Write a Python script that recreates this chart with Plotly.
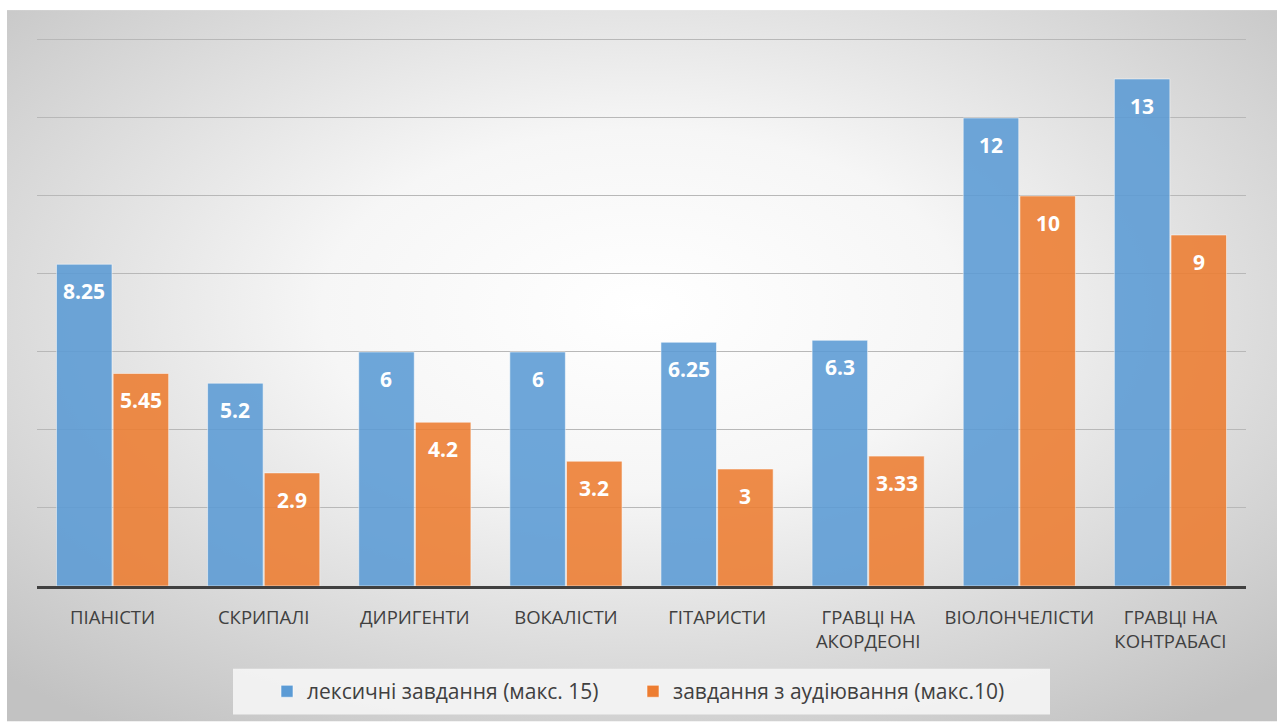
import base64
import plotly.graph_objects as go

# Data
categories = ["ПІАНІСТИ", "СКРИПАЛІ", "ДИРИГЕНТИ", "ВОКАЛІСТИ", "ГІТАРИСТИ",
              "ГРАВЦІ НА<br>АКОРДЕОНІ", "ВІОЛОНЧЕЛІСТИ", "ГРАВЦІ НА<br>КОНТРАБАСІ"]
lexical = [8.25, 5.2, 6, 6, 6.25, 6.3, 12, 13]
listening = [5.45, 2.9, 4.2, 3.2, 3, 3.33, 10, 9]
series_names = ["лексичні завдання (макс. 15)", "завдання з аудіювання (макс.10)"]

# Layout constants
W, H = 1277, 724
ML, MR, MT, MB = 37, 31, 38, 136
BARGAP, GROUPGAP = 0.25, 0.02
Y_MAX = 14.05

plot_w = W - ML - MR
plot_h = H - MT - MB
cat_w = plot_w / len(categories)
bar_offset = cat_w * (1 - BARGAP) / 4  # centre of each bar relative to category

BLUE = "#5B9BD5"
ORANGE = "#ED7D31"

def fmt(v):
    return f"{v:g}"

fig = go.Figure()
for name, vals, col, leg in [(series_names[0], lexical, BLUE, "legend"),
                             (series_names[1], listening, ORANGE, "legend2")]:
    fig.add_trace(go.Bar(
        x=categories, y=vals, name=name, legend=leg,
        marker=dict(color=col, opacity=0.88,
                    line=dict(color="rgba(255,255,255,0.55)", width=1)),
        hoverinfo="x+y",
    ))

# Value labels inside the top of each bar
annotations = []
for vals, sign in [(lexical, -1), (listening, 1)]:
    for c, v in zip(categories, vals):
        annotations.append(dict(
            x=c, y=v, xref="x", yref="y", text=f"<b>{fmt(v)}</b>",
            showarrow=False, xshift=sign * bar_offset, yshift=-27,
            yanchor="middle", xanchor="center",
            font=dict(family="Open Sans", size=21, color="white"),
        ))

# Radial-gradient chart background as an SVG image
svg = (
    '<svg xmlns="http://www.w3.org/2000/svg" width="1270" height="714" '
    'viewBox="0 0 1270 714" preserveAspectRatio="none">'
    '<defs><radialGradient id="g" cx="0.5" cy="0.42" r="0.72">'
    '<stop offset="0" stop-color="#ffffff"/>'
    '<stop offset="0.35" stop-color="#f6f6f6"/>'
    '<stop offset="1" stop-color="#c2c2c2"/>'
    '</radialGradient></defs>'
    '<rect x="0" y="0" width="1270" height="714" fill="url(#g)"/></svg>'
)
src = "data:image/svg+xml;base64," + base64.b64encode(svg.encode()).decode()

def px_x(p):
    return (p - ML) / plot_w

def px_y(p):
    return (H - MB - p) / plot_h

images = [dict(
    source=src, xref="paper", yref="paper",
    x=px_x(7), y=px_y(10), sizex=px_x(W) - px_x(7), sizey=px_y(10) - px_y(H),
    xanchor="left", yanchor="top", sizing="stretch", layer="below",
)]

shapes = [dict(
    type="rect", xref="paper", yref="paper",
    x0=px_x(233), x1=px_x(1050), y0=px_y(717), y1=px_y(671),
    fillcolor="rgba(244,244,244,0.92)", line=dict(width=0), layer="below",
)]

legend_style = dict(
    orientation="h", xanchor="left", y=px_y(694), yanchor="middle",
    bgcolor="rgba(0,0,0,0)", font=dict(size=21, color="#404040"),
    itemwidth=30,
)

fig.update_layout(
    width=W, height=H,
    margin=dict(l=ML, r=MR, t=MT, b=MB),
    paper_bgcolor="white", plot_bgcolor="rgba(0,0,0,0)",
    barmode="group", bargap=BARGAP, bargroupgap=GROUPGAP,
    font=dict(family="Open Sans", color="#404040"),
    showlegend=True,
    legend=dict(x=px_x(267), **legend_style),
    legend2=dict(x=px_x(633), **legend_style),
    annotations=annotations, images=images, shapes=shapes,
    xaxis=dict(
        showline=True, linecolor="#404040", linewidth=3,
        ticks="", tickfont=dict(size=18.5, color="#404040"),
        ticklabelstandoff=13, showgrid=False,
    ),
    yaxis=dict(
        range=[0, Y_MAX], dtick=2, showticklabels=False, ticks="",
        showgrid=True, gridcolor="#b8b8b8", gridwidth=1.3,
        zeroline=False, showline=False,
    ),
)

fig.write_html("out.html")
